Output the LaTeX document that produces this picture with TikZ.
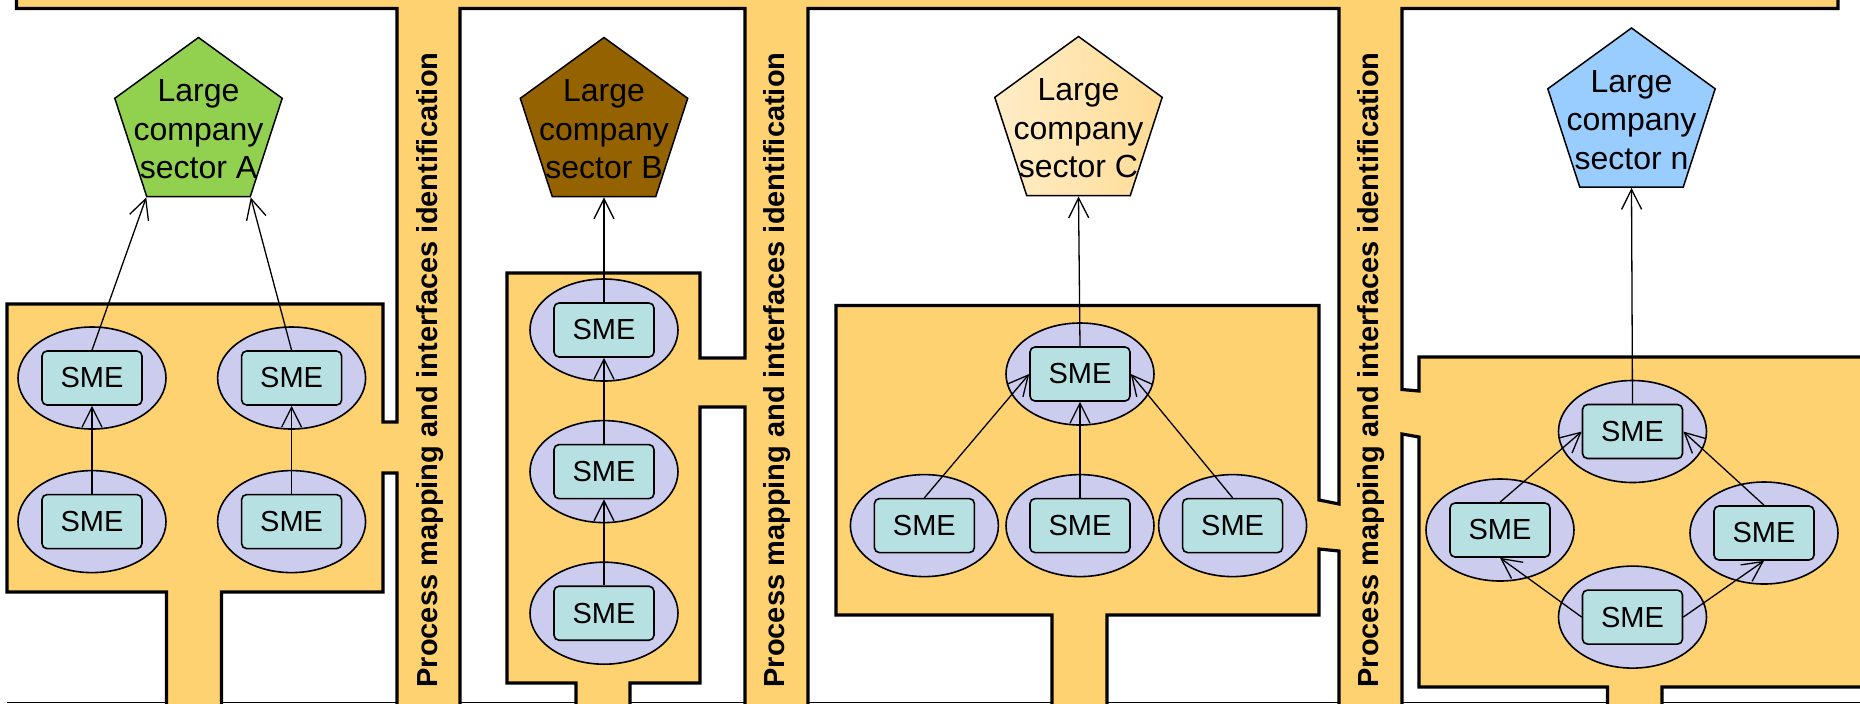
\documentclass[tikz,border=0pt]{standalone}
\usepackage{fontspec}
\setmainfont{Liberation Sans}
\usepackage{tikz}
\usetikzlibrary{arrows.meta, shapes, positioning}
\usepackage{xcolor}
\definecolor{bandorange}{HTML}{FFD271}
\definecolor{ringblue}{HTML}{CCCCEE}
\definecolor{smecyan}{HTML}{B7E0E2}
\definecolor{firmgreen}{HTML}{92D050}
\definecolor{firmbrown}{HTML}{956200}
\definecolor{firmsky}{HTML}{99CCFF}
\definecolor{creamlight}{HTML}{FFEDC8}
\definecolor{creamdark}{HTML}{FFDC95}

\begin{document}
\begin{tikzpicture}[
  x=0.5pt, y=-0.5pt,
  node distance= 20pt and 25pt,
  firmnode/.style={draw, regular polygon, regular polygon sides=5, minimum size=88pt, inner sep=0pt, line width=0.75pt},
  firmtext/.style={align=center, yshift=-2pt, font=\fontsize{16}{19.3}\selectfont},
  ringnode/.style={draw, ellipse, minimum width=74pt, minimum height=51pt, inner sep=0pt, fill=ringblue, line width=0.8pt},
  smenode/.style={draw, rounded corners=2.5pt, minimum width=50pt, minimum height=27pt, inner sep=0pt, fill=smecyan, line width=0.8pt, font=\fontsize{14.5}{16}\selectfont},
  bandtext/.style={rotate=90, font=\fontsize{14.5}{16}\selectfont\bfseries},
  link/.style={-{Straight Barb[length=10pt,width=10pt]}, line width=0.65pt}
]
\useasboundingbox (0,0) rectangle (1860,703);
\clip (0,0) rectangle (1860,703);

\draw[line width=0.5pt] (7,702) -- (1860,702);
\draw[fill=bandorange, line width=1.6pt]
  (16.5,-20) -- (16.5,8.5) -- (397,8.5) -- (397,422) -- (383,422) -- (383,304)
  -- (7,304) -- (7,592) -- (166.5,592) -- (166.5,720) -- (221.5,720) -- (221.5,592)
  -- (383,592) -- (383,473) -- (397,473) -- (397,720) -- (460,720) -- (460,8.5)
  -- (745,8.5) -- (745,358) -- (700,358) -- (700,273) -- (507,273) -- (507,683)
  -- (576,683) -- (576,720) -- (630,720) -- (630,683) -- (700,683) -- (700,407)
  -- (745,407) -- (745,720) -- (808,720) -- (808,8.5) -- (1339,8.5) -- (1339,504)
  -- (1319,500) -- (1319,305.5) -- (836,305.5) -- (836,615) -- (1052,615) -- (1052,720)
  -- (1107,720) -- (1107,615) -- (1319,615) -- (1319,549) -- (1339,551) -- (1339,720)
  -- (1402,720) -- (1402,434) -- (1419,437) -- (1419,687) -- (1607.5,687) -- (1607.5,720)
  -- (1662,720) -- (1662,687) -- (1880,687) -- (1880,357) -- (1419,357) -- (1419,391)
  -- (1402,389.5) -- (1402,8.5) -- (1838,8.5) -- (1838,-20) -- cycle;

\node[bandtext] (t1) at (430,370) {Process mapping and interfaces identification};
\node[bandtext] (t2) at (777,370) {Process mapping and interfaces identification};
\node[bandtext] (t3) at (1371,370) {Process mapping and interfaces identification};

\node[firmnode, fill=firmgreen] (la) at (198.5,125.5) {};
\node[firmnode, fill=firmbrown] (lb) at (604,125.5) {};
\node[firmnode, left color=creamlight, right color=creamdark] (lc) at (1078.5,124.5) {};
\node[firmnode, fill=firmsky] (ln) at (1631.5,116) {};
\node[firmtext] at (la) {Large\\company\\sector A};
\node[firmtext] at (lb) {Large\\company\\sector B};
\node[firmtext] at (lc) {Large\\company\\sector C};
\node[firmtext] at (ln) {Large\\company\\sector n};

\node[ringnode] (ra1) at (92,378) {};
\node[ringnode, below=of ra1] (ra2) {};
\node[ringnode, right=of ra1] (ra3) {};
\node[ringnode, below=of ra3] (ra4) {};
\node[ringnode] (rb1) at (604,330) {};
\node[ringnode, below=19pt of rb1] (rb2) {};
\node[ringnode, below=19pt of rb2] (rb3) {};
\node[ringnode] (rc1) at (1080,374) {};
\node[ringnode, below=24pt of rc1] (rc3) {};
\node[ringnode, left=3pt of rc3] (rc2) {};
\node[ringnode, right=1.5pt of rc3] (rc4) {};
\node[ringnode] (rn1) at (1632.5,431.5) {};
\node[ringnode] (rn2) at (1500,530) {};
\node[ringnode] (rn3) at (1764,533) {};
\node[ringnode, below=41pt of rn1] (rn4) {};

\foreach \n in {a1,a2,a3,a4,b1,b2,b3,c1,c2,c3,c4,n1,n2,n3,n4}
  \node[smenode] (\n) at (r\n) {SME};

\path (a2.north) edge[link] (a1.south)
(a4.north) edge[link] (a3.south)
(a1.north) edge[link] (la.corner 3)
(a3.north) edge[link] (la.corner 4)
(b3.north) edge[link] (b2.south)
(b2.north) edge[link] (b1.south)
(b1.north) edge[link] (lb.south)
(c2.north) edge[link] (c1.west)
(c3.north) edge[link] (c1.south)
(c4.north) edge[link] (c1.east)
(c1.north) edge[link] (lc.south)
(n2.north) edge[link] (n1.west)
(n3.north) edge[link] (n1.east)
(n4.west) edge[link] (n2.south)
(n4.east) edge[link] (n3.south)
(n1.north) edge[link] (ln.south)
;
\end{tikzpicture}
\end{document}
